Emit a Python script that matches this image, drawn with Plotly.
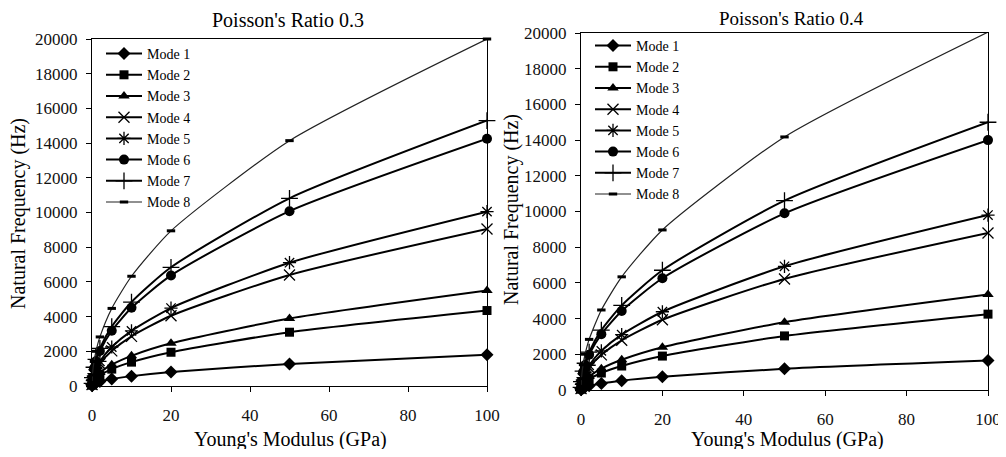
import plotly.graph_objects as go

# Young's modulus (GPa)
E = [0.01, 0.1, 0.5, 1, 2, 5, 10, 20, 50, 100]

# Poisson's ratio 0.3 – natural frequency (Hz)
m1_03 = [18, 57, 127, 180, 255, 402, 569, 805, 1273, 1800]
m2_03 = [44, 138, 308, 435, 615, 973, 1376, 1945, 3100, 4350]
m3_03 = [55, 174, 389, 550, 778, 1230, 1739, 2460, 3889, 5500]
m4_03 = [91, 286, 640, 905, 1280, 2024, 2862, 4047, 6400, 9050]
m5_03 = [101, 318, 711, 1005, 1421, 2247, 3178, 4494, 7106, 10050]
m6_03 = [143, 451, 1008, 1425, 2015, 3186, 4506, 6373, 10076, 14250]
m7_03 = [153, 484, 1082, 1530, 2164, 3421, 4838, 6842, 10819, 15300]
m8_03 = [200, 632, 1414, 2000, 2828, 4472, 6325, 8944, 14142, 20000]

# Poisson's ratio 0.4 – natural frequency (Hz)
m1_04 = [17, 52, 117, 165, 233, 369, 522, 738, 1190, 1650]
m2_04 = [43, 134, 301, 425, 601, 950, 1344, 1901, 3030, 4250]
m3_04 = [54, 169, 378, 535, 757, 1196, 1692, 2393, 3800, 5350]
m4_04 = [88, 278, 622, 880, 1245, 1968, 2783, 3935, 6223, 8800]
m5_04 = [98, 310, 693, 980, 1386, 2191, 3099, 4383, 6930, 9800]
m6_04 = [140, 443, 990, 1400, 1980, 3130, 4427, 6261, 9899, 14000]
m7_04 = [150, 474, 1061, 1500, 2121, 3354, 4743, 6708, 10607, 15000]
m8_04 = [201, 634, 1418, 2005, 2836, 4483, 6340, 8967, 14177, 20050]

mode_names = ["Mode 1", "Mode 2", "Mode 3", "Mode 4", "Mode 5", "Mode 6", "Mode 7", "Mode 8"]
tick_x = [0, 20, 40, 60, 80, 100]
tick_y = [0, 2000, 4000, 6000, 8000, 10000, 12000, 14000, 16000, 18000, 20000]
tick_y_text = [str(v) for v in tick_y]

FONT = "Liberation Serif"
# page body has an 8px margin: figure starts at (8, 8) in the window;
# height kept so that the page does not overflow vertically
OFF = 8
W, H = 1006 - OFF, 457 - 2 * OFF


def fx(px):
    return (px - OFF) / W


def fy(py):
    return 1 - (py - OFF) / H


styles = [
    dict(symbol="diamond", size=10, lw=0, width=2, color="black"),
    dict(symbol="square", size=9, lw=0, width=2, color="black"),
    dict(symbol="triangle-up", size=10, lw=0, width=2, color="black"),
    dict(symbol="x-thin", size=11, lw=1.3, width=2, color="black"),
    dict(symbol="asterisk", size=11, lw=1.3, width=2, color="black"),
    dict(symbol="circle", size=10, lw=0, width=2, color="black"),
    dict(symbol="cross-thin", size=12, lw=1.3, width=2, color="black"),
    dict(symbol="line-ew", size=6, lw=3, width=1.2, color="#222"),
]

fig = go.Figure()

left = [m1_03, m2_03, m3_03, m4_03, m5_03, m6_03, m7_03, m8_03]
right = [m1_04, m2_04, m3_04, m4_04, m5_04, m6_04, m7_04, m8_04]

for data, xa, ya, lg in [(left, "x", "y", "legend"), (right, "x2", "y2", "legend2")]:
    for name, vals, st in zip(mode_names, data, styles):
        fig.add_trace(go.Scatter(
            x=E, y=vals, name=name, mode="lines+markers",
            xaxis=xa, yaxis=ya, legend=lg, cliponaxis=False,
            line=dict(color=st["color"], width=st["width"], shape="spline", smoothing=0.6),
            marker=dict(symbol=st["symbol"], size=st["size"], color="black",
                        line=dict(width=st["lw"], color="black")),
        ))

axis_common = dict(showline=True, mirror=True, linecolor="black", linewidth=1,
                   showgrid=False, zeroline=False, ticks="outside", ticklen=5,
                   tickcolor="black", automargin=False, ticklabeloverflow="allow",
                   tickfont=dict(family=FONT, size=17, color="#111"))
xaxis_extra = dict(ticklabelstandoff=9)
yaxis_extra = dict(ticklabelstandoff=5)


def ann(text, px, py, size, angle=0):
    return dict(text=text, x=fx(px), y=fy(py), xref="paper", yref="paper",
                xanchor="center", yanchor="middle", showarrow=False, textangle=angle,
                font=dict(family=FONT, size=size, color="black"))


LEG_FONT = 14

fig.update_layout(
    template="none",
    width=W, height=H,
    margin=dict(l=0, r=0, t=0, b=0, pad=0),
    paper_bgcolor="white", plot_bgcolor="white",
    font=dict(family=FONT, color="black"),
    xaxis=dict(domain=[fx(92), fx(487)], range=[0, 100], tickvals=tick_x, anchor="y",
               **axis_common, **xaxis_extra),
    yaxis=dict(domain=[fy(386), fy(39)], range=[0, 20000], tickvals=tick_y,
               ticktext=tick_y_text, anchor="x", **axis_common, **yaxis_extra),
    xaxis2=dict(domain=[fx(581), fx(988)], range=[0, 100], tickvals=tick_x, anchor="y2",
                **axis_common, **xaxis_extra),
    yaxis2=dict(domain=[fy(390), fy(33)], range=[0, 20000], tickvals=tick_y,
                ticktext=tick_y_text, anchor="x2", **axis_common, **yaxis_extra),
    legend=dict(x=fx(101), y=fy(38), xanchor="left", yanchor="top", bgcolor="rgba(0,0,0,0)",
                font=dict(family=FONT, size=LEG_FONT), tracegroupgap=0, itemwidth=36),
    legend2=dict(x=fx(590), y=fy(30), xanchor="left", yanchor="top", bgcolor="rgba(0,0,0,0)",
                 font=dict(family=FONT, size=LEG_FONT), tracegroupgap=0, itemwidth=36),
    showlegend=True,
    annotations=[
        ann("Poisson's Ratio 0.3", 288, 20, 20),
        ann("Poisson's Ratio 0.4", 791, 19, 19),
        ann("Young's Modulus (GPa)", 290, 439, 20),
        ann("Young's Modulus (GPa)", 787, 439, 20),
        ann("Natural Frequency (Hz)", 19, 214, 20, -90),
        ann("Natural Frequency (Hz)", 511, 210, 20, -90),
    ],
)

fig.write_html("out.html")
